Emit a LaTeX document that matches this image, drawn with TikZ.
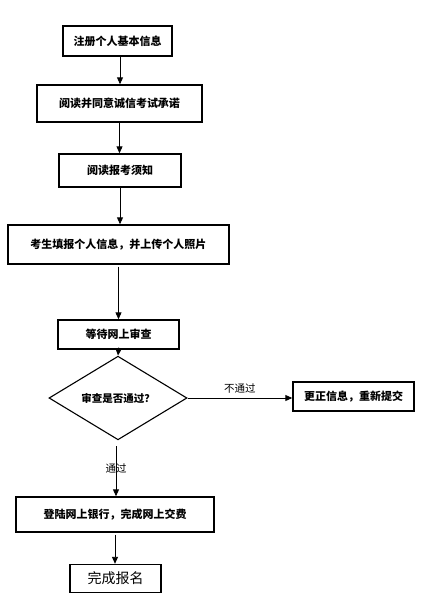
\documentclass[tikz,border=0pt]{standalone}
\usepackage{fontspec}
\setmainfont{Noto Sans CJK SC}
\usetikzlibrary{shapes.geometric,arrows.meta}
\begin{document}
\begin{tikzpicture}[x=1pt,y=-1pt,
  boxstyle/.style={draw=black,line width=1.4pt,inner sep=0pt,font=\fontsize{11}{13}\selectfont\bfseries},
  decstyle/.style={diamond,draw=black,line width=1.1pt,inner sep=0pt,font=\fontsize{10.5}{13}\selectfont\bfseries},
  arr/.style={draw=black,line width=0.9pt,-{Triangle[length=7pt,width=6pt]}},
  lbl/.style={font=\fontsize{10.5}{13}\selectfont}]
\useasboundingbox (0,0) rectangle (427,600);
\node[boxstyle,minimum width=109pt,minimum height=30pt] (b1) at (117.5,41) {注册个人基本信息};
\node[boxstyle,minimum width=165pt,minimum height=37pt] (b2) at (119.5,103.5) {阅读并同意诚信考试承诺};
\node[boxstyle,minimum width=122pt,minimum height=33pt] (b3) at (120,170.5) {阅读报考须知};
\node[boxstyle,minimum width=221pt,minimum height=39pt] (b4) at (118.5,244.5) {考生填报个人信息，并上传个人照片};
\node[boxstyle,minimum width=121pt,minimum height=29pt] (b5) at (118.5,334.5) {等待网上审查};
\node[decstyle,minimum width=138pt,minimum height=52pt] (d) at (118,398) {审查是否通过？};
\node[boxstyle,minimum width=121pt,minimum height=29pt] (b6) at (353.5,396.5) {更正信息，重新提交};
\node[boxstyle,minimum width=198pt,minimum height=35pt] (b7) at (115,514.5) {登陆网上银行，完成网上交费};
\node[boxstyle,minimum width=91pt,minimum height=28pt,font=\fontsize{14}{16}\selectfont] (b8) at (115.5,578.5) {完成报名};
\draw[arr] ([xshift=2.5pt]b1.south) -- ([xshift=2.5pt]b1.south |- b2.north);
\draw[arr] (b2.south) -- (b2.south |- b3.north);
\draw[arr] (b3.south) -- (b3.south |- b4.north);
\draw[arr,shorten <=2pt] (b4.south) -- (b4.south |- b5.north);
\draw[arr,shorten <=2pt] (b5.south) -- (d.north);
\draw[arr] (d.east) -- (b6.west |- d.east) node[lbl,midway,above=1pt] (l1) {不通过};
\draw[arr,shorten <=6pt] ([xshift=-2pt]d.south) -- ([xshift=-2pt]d.south |- b7.north) node[lbl,pos=0.5,fill=none] (l2) {通过};
\draw[arr,shorten <=2pt] (b7.south) -- (b7.south |- b8.north);
\end{tikzpicture}
\end{document}
